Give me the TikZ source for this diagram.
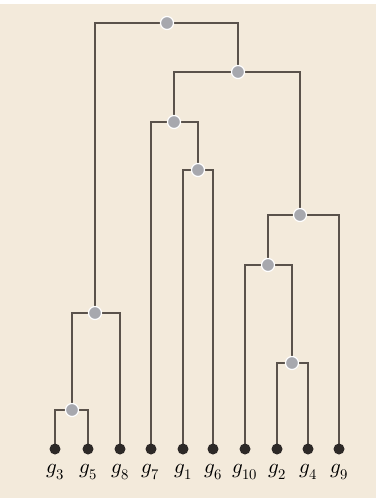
\documentclass[tikz,border=0pt]{standalone}
\usepackage{amsmath}
\usepackage{unicode-math}
\setmathfont{Latin Modern Math}
\usepackage{xcolor}
\usepackage{tikz}
\usetikzlibrary{positioning,backgrounds}
\definecolor{paper}{HTML}{F3EADB}
\definecolor{branch}{HTML}{5A524B}
\definecolor{joint}{HTML}{A7A8AE}
\definecolor{tip}{HTML}{2D2927}

\begin{document}
\begin{tikzpicture}[
    x=1pt, y=-1pt,
    leaf/.style={circle, fill=tip, inner sep=0pt, outer sep=0pt, minimum size=11pt},
    merge/.style={circle, fill=joint, draw=white, line width=1.2pt, inner sep=0pt, outer sep=0pt, minimum size=13pt},
    lab/.style={font=\fontsize{21}{23}\selectfont, inner sep=0pt},
    link/.style={draw=branch, line width=2.6pt},
]
    \useasboundingbox (0,0) rectangle (376,498);
    \begin{scope}[on background layer]
    \fill[paper] (0,0) rectangle (376,498);
    \fill[white] (0,0) rectangle (376,4);
    \end{scope}

    % leaves
    \node[leaf] (g3) at (55, 449) {};
    \node[leaf] (g5) at (88, 449) {};
    \node[leaf] (g8) at (120, 449) {};
    \node[leaf] (g7) at (151, 449) {};
    \node[leaf] (g1) at (183, 449) {};
    \node[leaf] (g6) at (213, 449) {};
    \node[leaf] (g10) at (245, 449) {};
    \node[leaf] (g2) at (277, 449) {};
    \node[leaf] (g4) at (308, 449) {};
    \node[leaf] (g9) at (339, 449) {};

    \node[lab, below=10pt of g3] {$g_3$};
    \node[lab, below=10pt of g5] {$g_5$};
    \node[lab, below=10pt of g8] {$g_8$};
    \node[lab, below=10pt of g7] {$g_7$};
    \node[lab, below=10pt of g1] {$g_1$};
    \node[lab, below=10pt of g6] {$g_6$};
    \node[lab, below=10pt of g10] {$g_{10}$};
    \node[lab, below=10pt of g2] {$g_2$};
    \node[lab, below=10pt of g4] {$g_4$};
    \node[lab, below=10pt of g9] {$g_9$};

    % merges
    \node[merge] (m35) at (72, 410) {};
    \node[merge] (m358) at (95, 313) {};
    \node[merge] (m16) at (198, 170) {};
    \node[merge] (m716) at (174, 122) {};
    \node[merge] (m24) at (292, 363) {};
    \node[merge] (m1024) at (268, 265) {};
    \node[merge] (m10249) at (300, 215) {};
    \node[merge] (mright) at (238, 72) {};
    \node[merge] (root) at (167, 23) {};

    \begin{scope}[on background layer]
    \draw[link] (m35) -| (g3);
    \draw[link] (m35) -| (g5);
    \draw[link] (m358) -| (m35);
    \draw[link] (m358) -| (g8);
    \draw[link] (m16) -| (g1);
    \draw[link] (m16) -| (g6);
    \draw[link] (m716) -| (g7);
    \draw[link] (m716) -| (m16);
    \draw[link] (m24) -| (g2);
    \draw[link] (m24) -| (g4);
    \draw[link] (m1024) -| (g10);
    \draw[link] (m1024) -| (m24);
    \draw[link] (m10249) -| (m1024);
    \draw[link] (m10249) -| (g9);
    \draw[link] (mright) -| (m716);
    \draw[link] (mright) -| (m10249);
    \draw[link] (root) -| (m358);
    \draw[link] (root) -| (mright);
    \end{scope}
\end{tikzpicture}
\end{document}
